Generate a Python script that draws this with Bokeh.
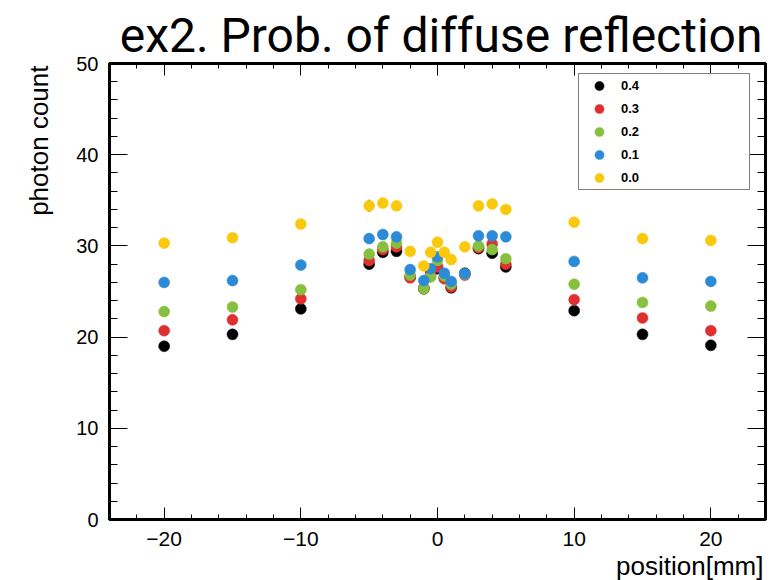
import math
from bokeh.plotting import figure
from bokeh.models import (Range1d, LinearAxis, SingleIntervalTicker, Title,
                          Legend, LegendItem, ColumnDataSource)
from bokeh.embed import file_html
from bokeh.resources import INLINE

# ---------------- data ----------------
positions = [-20, -15, -10, -5, -4, -3, -2, -1, -0.5, 0, 0.5, 1, 2, 3, 4, 5, 10, 15, 20]

count_04 = [19.0, 20.3, 23.1, 28.0, 29.3, 29.4, 26.6, 25.3, 27.3, 27.5, 26.5, 25.4, 27.0, 29.7, 29.2, 27.7, 22.9, 20.3, 19.1]
count_03 = [20.7, 21.9, 24.2, 28.4, 29.6, 29.9, 26.5, 25.4, 26.9, 27.7, 26.4, 25.5, 26.8, 29.8, 30.2, 28.0, 24.1, 22.1, 20.7]
count_02 = [22.8, 23.3, 25.2, 29.1, 29.9, 30.3, 26.8, 25.3, 26.6, 28.4, 26.7, 25.8, 26.9, 30.0, 29.6, 28.6, 25.8, 23.8, 23.4]
count_01 = [26.0, 26.2, 27.9, 30.8, 31.25, 31.0, 27.4, 26.2, 27.5, 28.8, 27.0, 26.1, 26.95, 31.1, 31.1, 31.0, 28.3, 26.5, 26.1]
count_00 = [30.3, 30.9, 32.4, 34.4, 34.7, 34.4, 29.4, 27.8, 29.3, 30.4, 29.3, 28.5, 29.9, 34.4, 34.6, 34.0, 32.6, 30.8, 30.6]
err_00 = [0.3, 0.3, 0.3, 0.65, 0.3, 0.3, 0.3, 0.3, 0.3, 0.3, 0.3, 0.3, 0.3, 0.3, 0.3, 0.3, 0.3, 0.3, 0.3]

series_labels = ["0.4", "0.3", "0.2", "0.1", "0.0"]
series_values = [count_04, count_03, count_02, count_01, count_00]
series_colors = ["#000000", "#df3030", "#87c03f", "#2c8ad7", "#fac80c"]

x_tick_labels = {-20: "\u221220", -10: "\u221210", 0: "0", 10: "10", 20: "20"}
y_tick_labels = {0: "0", 10: "10", 20: "20", 30: "30", 40: "40", 50: "50"}

title_text = "ex2. Prob. of diffuse reflection"
x_title = "position[mm]"
y_title = "photon count"

# ---------------- figure ----------------
p = figure(width=773, height=580, output_backend="svg", toolbar_location=None,
           x_range=Range1d(-24, 24), y_range=Range1d(0, 50),
           min_border_left=109, min_border_right=8, min_border_top=63, min_border_bottom=61)
p.xgrid.visible = False
p.ygrid.visible = False
p.background_fill_color = "white"
p.border_fill_color = "white"
p.outline_line_color = "black"
p.outline_line_width = 3

p.title = Title(text=title_text, align="right", text_font="Roboto",
                text_font_size="48px", text_font_style="normal",
                text_color="black", offset=3, standoff=0)

xt = SingleIntervalTicker(interval=10, num_minor_ticks=5)
yt = SingleIntervalTicker(interval=10, num_minor_ticks=5)

FONT = "Liberation Sans"

def style_axis(ax, major_in, minor_in, show_labels, size="20px", standoff=10):
    ax.axis_line_width = 3
    ax.axis_line_color = "black"
    ax.major_tick_in = major_in
    ax.major_tick_out = 0
    ax.minor_tick_in = minor_in
    ax.minor_tick_out = 0
    ax.major_tick_line_color = "black"
    ax.minor_tick_line_color = "black"
    ax.major_tick_line_width = 1
    ax.minor_tick_line_width = 1
    if show_labels:
        ax.major_label_text_font = FONT
        ax.major_label_text_font_size = size
        ax.major_label_text_color = "black"
        ax.major_label_standoff = standoff
    else:
        ax.major_label_text_color = None
        ax.major_label_text_font_size = "0px"
        ax.major_label_standoff = 0

xa = p.xaxis[0]
xa.ticker = xt
xa.major_label_overrides = x_tick_labels
style_axis(xa, 12, 5, True, "21px", 12)

ya = p.yaxis[0]
ya.ticker = yt
ya.major_label_overrides = y_tick_labels
style_axis(ya, 18, 8, True, "20px", 11)

top_ax = LinearAxis(ticker=xt)
style_axis(top_ax, 12, 5, False)
p.add_layout(top_ax, "above")

right_ax = LinearAxis(ticker=yt)
style_axis(right_ax, 18, 8, False)
p.add_layout(right_ax, "right")

# axis titles as side-panel titles (right/top aligned like the reference)
p.add_layout(Title(text=x_title, align="right", text_font=FONT, text_font_size="26px",
                   text_font_style="normal", text_color="black", offset=2, standoff=0),
             "below")
p.add_layout(Title(text=y_title, align="right",
                   text_font=FONT, text_font_size="26px",
                   text_font_style="normal", text_color="black", offset=2, standoff=40),
             "left")

# ---------------- data marks ----------------
renderers = []
for lab, vals, col in zip(series_labels, series_values, series_colors):
    src = ColumnDataSource(dict(x=positions, y=vals))
    if lab == "0.0":
        lo = [v - e for v, e in zip(vals, err_00)]
        hi = [v + e for v, e in zip(vals, err_00)]
        p.segment(x0=positions, y0=lo, x1=positions, y1=hi,
                  line_color="black", line_width=2, line_alpha=0.6)
    r = p.scatter("x", "y", source=src, marker="circle", size=11,
                  fill_color=col, line_color=col, line_width=0.5)
    renderers.append(r)

legend = Legend(items=[LegendItem(label=l, renderers=[r]) for l, r in zip(series_labels, renderers)],
                location=(469, 329), orientation="vertical",
                glyph_width=40, glyph_height=23, label_height=23, spacing=0,
                padding=0, margin=0, label_standoff=2, label_width=128,
                label_text_font=FONT, label_text_font_size="13px",
                label_text_font_style="bold", label_text_color="black",
                border_line_color="black", border_line_width=1,
                background_fill_color="white", background_fill_alpha=1)
p.add_layout(legend, "center")

open("out.html", "w").write(file_html(p, INLINE))
